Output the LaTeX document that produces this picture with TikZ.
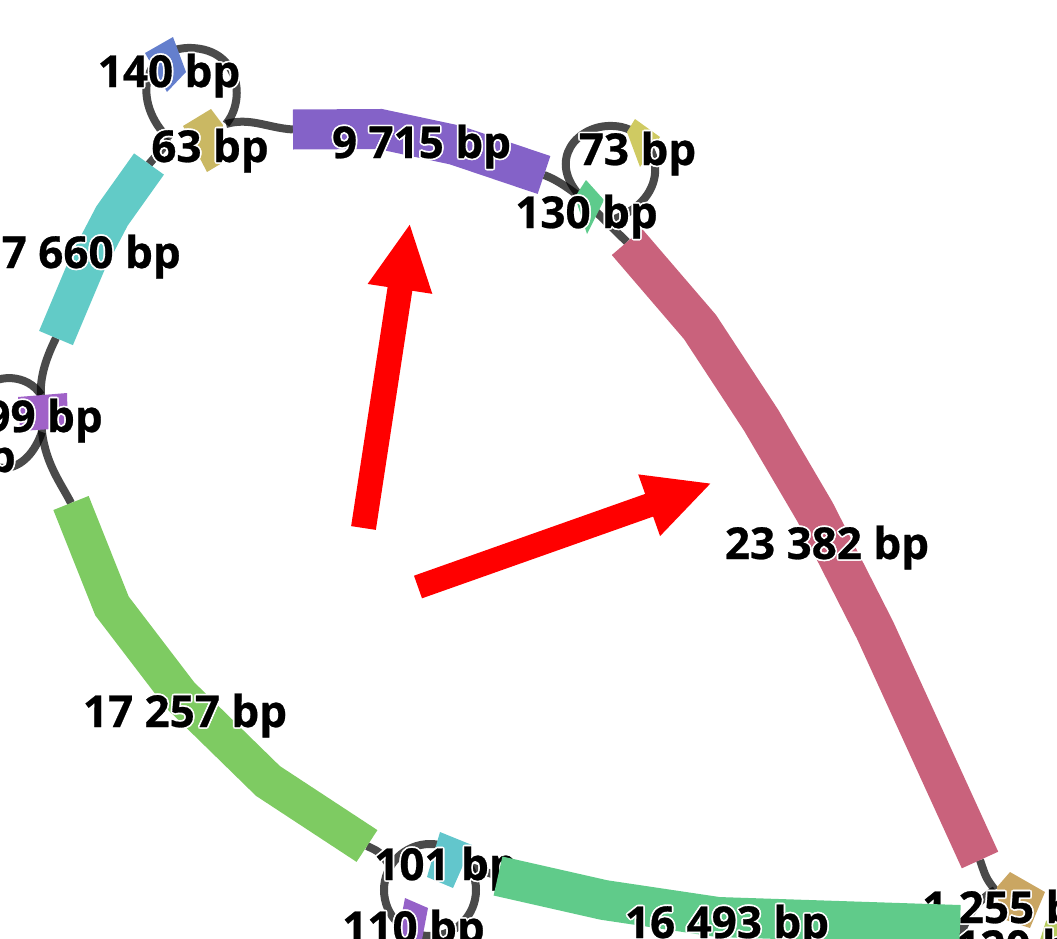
\documentclass[tikz,border=0pt]{standalone}
\usepackage{fontspec}
\setmainfont{Open Sans}[BoldFeatures={FakeBold=0.6}]
\usetikzlibrary{arrows.meta}
\definecolor{cCyan}{HTML}{62CBC7}
\definecolor{cPurple}{HTML}{8462C8}
\definecolor{cPink}{HTML}{C9627C}
\definecolor{cGreenA}{HTML}{7ECB62}
\definecolor{cGreenB}{HTML}{60CB8A}
\definecolor{cBlue}{HTML}{647FCD}
\definecolor{cTan}{HTML}{CAB863}
\definecolor{cYellow}{HTML}{CFCA62}
\definecolor{cGreenC}{HTML}{5ECB8C}
\definecolor{cViolet}{HTML}{A062C8}
\definecolor{cCyanB}{HTML}{62C6CC}
\definecolor{cVioletB}{HTML}{9562C8}
\definecolor{cOchre}{HTML}{CAA662}
\definecolor{cLime}{HTML}{B7CC5F}
\definecolor{cRed}{HTML}{FF0000}
\newcommand\hcp[3]{\rlap{\kern#1\raisebox{#2}{\textcolor{white}{#3}}}}
\newcommand\halo[1]{\hcp{1.3pt}{0pt}{#1}\hcp{-1.3pt}{0pt}{#1}\hcp{0pt}{1.3pt}{#1}\hcp{0pt}{-1.3pt}{#1}\hcp{0.92pt}{0.92pt}{#1}\hcp{-0.92pt}{0.92pt}{#1}\hcp{0.92pt}{-0.92pt}{#1}\hcp{-0.92pt}{-0.92pt}{#1}#1}
\begin{document}
\begin{tikzpicture}[x=0.75pt,y=-0.75pt,
  lnk/.style={draw=black, draw opacity=0.71, line width=6pt, line cap=butt},
  seg/.style={line width=30pt, line cap=butt, line join=miter},
  lbl/.style={font=\fontsize{33}{36}\selectfont\bfseries, inner sep=0pt, anchor=base},
  redarrow/.style={draw=cRed, line width=18.75pt, line cap=butt, -{Triangle[length=50pt,width=45pt]}}]
\useasboundingbox (0,0) rectangle (1057,939);
\clip (0,0) rectangle (1057,939);
% coordinates
\coordinate (cyA) at (149,164);
\coordinate (cyB) at (56,338);
\coordinate (j63) at (170,140);
\coordinate (j63r) at (226,124);
\coordinate (pA) at (293,129.5);
\coordinate (pB) at (544,175);
\coordinate (j130) at (582,198);
\coordinate (pkA) at (627,242);
\coordinate (pkB) at (980,860);
\coordinate (j1255) at (995,890);
\coordinate (cut1) at (958,942);
\coordinate (j99a) at (41,395);
\coordinate (j99b) at (42,432);
\coordinate (gA) at (71,503);
\coordinate (gB) at (367,846);
\coordinate (ring101) at (430,890);
\coordinate (r101in) at (390,866);
\coordinate (j101) at (468,866);
\coordinate (gnA) at (498,876);
\coordinate (gnB) at (960,925);
% links
\draw[lnk] (cyA) -- (j63);
\draw[lnk] (j63) .. controls (130,102) and (143,46) .. (192,48) .. controls (240,50) and (246,100) .. (j63r);
\draw[lnk] (j63r) .. controls (250,117) and (268,128) .. (pA);
\draw[lnk] (pB) .. controls (560,181) and (570,190) .. (j130);
\draw[lnk] (j130) .. controls (545,160) and (578,124) .. (613,126) .. controls (658,127) and (680,195) .. (612,220);
\draw[lnk] (j130) -- (pkA);
\draw[lnk] (pkB) .. controls (986,878) .. (j1255);
\draw[lnk] (j1255) .. controls (975,902) and (966,918) .. (cut1);
\draw[lnk] (cyB) .. controls (44,362) and (40,380) .. (j99a) -- (j99b) .. controls (46,465) and (62,485) .. (gA);
\draw[lnk] (j99a) .. controls (28,374) and (-5,372) .. (-20,392) .. controls (-35,420) and (-25,468) .. (5,468) .. controls (22,467) and (35,452) .. (j99b);
\draw[lnk] (gB) .. controls (380,852) .. (r101in);
\draw[lnk] (ring101) circle[radius=34.5pt];
\draw[lnk] (j101) -- (gnA);
% contigs
\fill[cBlue] (145,53) -- (173,37) -- (186,72) -- (167,92) -- cycle;
\fill[cTan] (183,126) -- (211,109) -- (223,125) -- (222,163) -- (207,172) -- cycle;
\draw[seg, cCyan, line width=27.5pt] (cyA) -- (112,216) -- (88,262) -- (cyB);
\draw[seg, cPurple] (pA) -- (380,129) -- (455,145) -- (pB);
\fill[cGreenC] (575,197) -- (586,180) -- (604,200) -- (587,234) -- cycle;
\fill[cYellow] (627,132) -- (635,119) -- (660,137) -- (640,167) -- cycle;
\draw[seg, cPink] (pkA) -- (700,327) -- (761,420) -- (815,512) -- (875,630) -- (pkB);
\fill[cOchre] (997,887) -- (1010,872) -- (1045,892) -- (1030,928) -- (1000,918) -- cycle;
\fill[cLime] (1040,940) -- (1046,921) -- (1057,914) -- (1057,940) -- cycle;
\fill[cViolet] (18,397) -- (67,393) -- (68,428) -- (20,431) -- cycle;
\draw[seg, cGreenA, line width=28.5pt] (gA) -- (112,606) -- (180,695) -- (268,781) -- (gB);
\fill[cCyanB] (440,832) -- (472,845) -- (453,888) -- (427,877) -- cycle;
\fill[cVioletB] (405,898) -- (428,908) -- (421,945) -- (396,945) -- cycle;
% labels hidden behind the 16 493 bp contig
\node[lbl, anchor=base west] (l101) at (374,880) {\halo{101 bp}};
\node[lbl, anchor=base west] (l1255) at (922,923) {\halo{1 255 bp}};
\node[lbl, anchor=base west] (l120) at (955,962) {\halo{120 bp}};
\draw[seg, cGreenB] (gnA) -- (604,900) -- (718,917) -- (gnB);
% labels
\node[lbl] (l140) at (169,87) {\halo{140 bp}};
\node[lbl] (l63) at (210,162) {\halo{63 bp}};
\node[lbl] (l9715) at (421.5,158) {\halo{9 715 bp}};
\node[lbl] (l73) at (637.5,165) {\halo{73 bp}};
\node[lbl] (l130) at (586.5,228) {\halo{130 bp}};
\node[lbl, anchor=base east] (l7660) at (181,268) {\halo{7 660 bp}};
\node[lbl, anchor=base east] (l99) at (103,432) {\halo{99 bp}};
\node[lbl, anchor=base east] (lbp) at (16,472) {\halo{bp}};
\node[lbl] (l23382) at (827,559) {\halo{23 382 bp}};
\node[lbl] (l17257) at (185,727) {\halo{17 257 bp}};
\node[lbl] (l110) at (413.5,943) {\halo{110 bp}};
\node[lbl] (l16493) at (727,938) {\halo{16 493 bp}};
% red arrows
\coordinate (a1t) at (363.5,528);
\coordinate (a1h) at (410,223);
\coordinate (a2t) at (418,587);
\coordinate (a2h) at (712,483);
\draw[redarrow] (a1t) -- (a1h);
\draw[redarrow, line width=18pt] (a2t) -- (a2h);
\end{tikzpicture}
\end{document}
